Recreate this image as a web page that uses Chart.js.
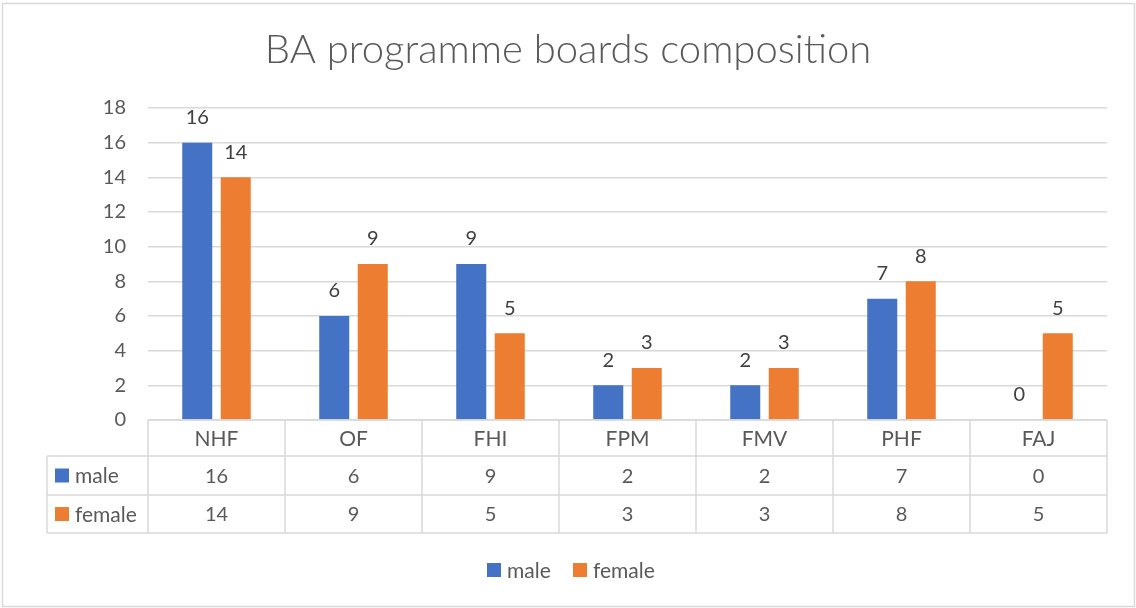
<!DOCTYPE html>
<html>
<head>
<meta charset="utf-8">
<script src="https://cdn.jsdelivr.net/npm/chart.js@4/dist/chart.umd.min.js"></script>
<style>
  html, body { margin: 0; padding: 0; background: #ffffff; }
  #wrap { width: 1136px; height: 608px; position: relative; }
</style>
</head>
<body>
<div id="wrap"><canvas id="c" width="1136" height="608"></canvas></div>
<script>
const titleText = 'BA programme boards composition';
const categories = ['NHF', 'OF', 'FHI', 'FPM', 'FMV', 'PHF', 'FAJ'];
const maleValues = [16, 6, 9, 2, 2, 7, 0];
const femaleValues = [14, 9, 5, 3, 3, 8, 5];
const seriesNames = ['male', 'female'];
const yTicks = [0, 2, 4, 6, 8, 10, 12, 14, 16, 18];

const FONT = 'Lato, "Open Sans", sans-serif';
const TEXT = '#595959';
const LINE = '#d9d9d9';

const tablePlugin = {
  id: 'tableAndExtras',
  afterDatasetsDraw(chart) {
    const ctx = chart.ctx;
    ctx.save();
    ctx.font = '20px ' + FONT;
    ctx.fillStyle = '#404040';
    ctx.textAlign = 'center';
    ctx.textBaseline = 'middle';
    chart.data.datasets.forEach((ds, di) => {
      chart.getDatasetMeta(di).data.forEach((bar, i) => {
        ctx.fillText(String(ds.data[i]), bar.x, bar.y - 25);
      });
    });
    ctx.restore();
  },
  afterDraw(chart) {
    const ctx = chart.ctx;
    const area = chart.chartArea;
    const xs = chart.scales.x;
    const n = categories.length;
    const left = area.left, right = area.right;
    const catW = (right - left) / n;
    const top = area.bottom;
    const rowH = [36, 39, 38];
    const y1 = top + rowH[0], y2 = y1 + rowH[1], y3 = y2 + rowH[2];
    const labelLeft = 47;

    ctx.save();
    ctx.strokeStyle = LINE;
    ctx.lineWidth = 1.5;
    ctx.beginPath();
    ctx.moveTo(left, top); ctx.lineTo(right, top);
    [y1, y2, y3].forEach(y => { ctx.moveTo(labelLeft, y); ctx.lineTo(right, y); });
    ctx.moveTo(labelLeft, y1); ctx.lineTo(labelLeft, y3);
    for (let k = 0; k <= n; k++) {
      const x = left + k * catW;
      ctx.moveTo(x, top); ctx.lineTo(x, y3);
    }
    ctx.stroke();

    ctx.fillStyle = TEXT;
    ctx.textAlign = 'center';
    ctx.textBaseline = 'middle';
    categories.forEach((c, i) => {
      const x = xs.getPixelForValue(i);
      ctx.font = '21px ' + FONT;
      ctx.fillText(c, x, (top + y1) / 2 + 1);
      ctx.font = '20px ' + FONT;
      ctx.fillText(String(maleValues[i]), x, (y1 + y2) / 2 + 1);
      ctx.fillText(String(femaleValues[i]), x, (y2 + y3) / 2 + 1);
    });
    const ds = chart.data.datasets;
    ctx.font = '21px ' + FONT;
    [[y1, y2], [y2, y3]].forEach((r, idx) => {
      const cy = (r[0] + r[1]) / 2;
      ctx.fillStyle = ds[idx].backgroundColor;
      ctx.fillRect(55, cy - 7, 14, 14);
      ctx.fillStyle = TEXT;
      ctx.textAlign = 'left';
      ctx.fillText(seriesNames[idx], 75, cy + 1);
    });

    // legend
    const ly = 570;
    ctx.font = '21px ' + FONT;
    ctx.textAlign = 'left';
    const lx = [487, 573];
    ds.forEach((d, idx) => {
      ctx.fillStyle = d.backgroundColor;
      ctx.fillRect(lx[idx], ly - 7, 14, 14);
      ctx.fillStyle = TEXT;
      ctx.fillText(d.label, lx[idx] + 20, ly + 1);
    });

    ctx.strokeStyle = LINE;
    ctx.lineWidth = 1.5;
    ctx.strokeRect(2.5, 3.5, 1132, 603);
    ctx.restore();
  }
};

new Chart(document.getElementById('c'), {
  type: 'bar',
  data: {
    labels: categories,
    datasets: [
      { label: seriesNames[0], data: maleValues, backgroundColor: '#4472C4', borderWidth: 0 },
      { label: seriesNames[1], data: femaleValues, backgroundColor: '#ED7D31', borderWidth: 0 }
    ]
  },
  options: {
    responsive: false,
    animation: false,
    events: [],
    layout: { padding: { left: 0, right: 0, top: 0, bottom: 188 } },
    categoryPercentage: 0.562,
    barPercentage: 0.78,
    plugins: {
      legend: { display: false },
      tooltip: { enabled: false },
      title: {
        display: true,
        text: titleText,
        color: TEXT,
        font: { family: FONT, size: 40, weight: 300, lineHeight: 1.2 },
        padding: { top: 26, bottom: 34 }
      }
    },
    scales: {
      x: {
        display: false,
        grid: { display: false }
      },
      y: {
        min: 0,
        max: 18,
        afterBuildTicks(scale) { scale.ticks = yTicks.map(v => ({ value: v })); },
        afterFit(scale) { scale.width = 148; },
        border: { display: false },
        grid: { color: LINE, lineWidth: 1.5, drawTicks: false },
        ticks: {
          color: TEXT,
          padding: 22,
          font: { family: FONT, size: 20 }
        }
      },
      yRight: {
        position: 'right',
        min: 0,
        max: 18,
        afterFit(scale) { scale.width = 29; },
        border: { display: false },
        grid: { display: false, drawTicks: false },
        ticks: { display: false }
      }
    }
  },
  plugins: [tablePlugin]
});
</script>
</body>
</html>
